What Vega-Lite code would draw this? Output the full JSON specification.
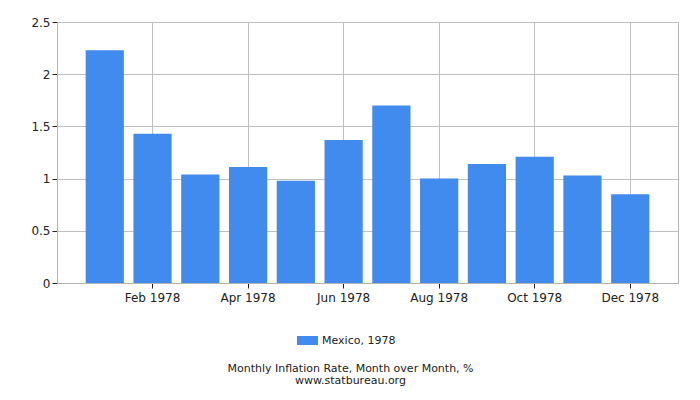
{
  "$schema": "https://vega.github.io/schema/vega-lite/v6.json",
  "width": 621,
  "height": 261,
  "autosize": "none",
  "padding": {"left": 57, "top": 22, "right": 22, "bottom": 117},
  "background": "white",
  "config": {
    "font": "DejaVu Sans",
    "view": {"stroke": "#b4b4b4"}
  },
  "title": {
    "text": ["Monthly Inflation Rate, Month over Month, %", "www.statbureau.org"],
    "orient": "bottom",
    "anchor": "middle",
    "fontSize": 11,
    "fontWeight": "normal",
    "color": "#222222",
    "lineHeight": 12,
    "offset": 17,
    "dx": -17
  },
  "data": {
    "values": [
      {"month": "Jan 1978", "value": 2.23, "series": "Mexico, 1978"},
      {"month": "Feb 1978", "value": 1.43, "series": "Mexico, 1978"},
      {"month": "Mar 1978", "value": 1.04, "series": "Mexico, 1978"},
      {"month": "Apr 1978", "value": 1.11, "series": "Mexico, 1978"},
      {"month": "May 1978", "value": 0.98, "series": "Mexico, 1978"},
      {"month": "Jun 1978", "value": 1.37, "series": "Mexico, 1978"},
      {"month": "Jul 1978", "value": 1.70, "series": "Mexico, 1978"},
      {"month": "Aug 1978", "value": 1.00, "series": "Mexico, 1978"},
      {"month": "Sep 1978", "value": 1.14, "series": "Mexico, 1978"},
      {"month": "Oct 1978", "value": 1.21, "series": "Mexico, 1978"},
      {"month": "Nov 1978", "value": 1.03, "series": "Mexico, 1978"},
      {"month": "Dec 1978", "value": 0.85, "series": "Mexico, 1978"}
    ]
  },
  "mark": {"type": "bar"},
  "encoding": {
    "x": {
      "field": "month",
      "type": "nominal",
      "sort": null,
      "scale": {"paddingInner": 0.2, "paddingOuter": 0.6},
      "axis": {
        "title": null,
        "values": ["Feb 1978", "Apr 1978", "Jun 1978", "Aug 1978", "Oct 1978", "Dec 1978"],
        "labelAngle": 0,
        "labelFontSize": 12,
        "labelColor": "#222222",
        "labelPadding": 4,
        "tickColor": "#222222",
        "tickSize": 5,
        "domainColor": "#b4b4b4",
        "grid": true,
        "gridColor": "#c0c0c0"
      }
    },
    "y": {
      "field": "value",
      "type": "quantitative",
      "scale": {"domain": [0, 2.5]},
      "axis": {
        "title": null,
        "values": [0, 0.5, 1, 1.5, 2, 2.5],
        "format": "~g",
        "labelFontSize": 12,
        "labelColor": "#222222",
        "labelPadding": 2,
        "tickColor": "#222222",
        "tickSize": 5,
        "domainColor": "#b4b4b4",
        "gridColor": "#c0c0c0"
      }
    },
    "color": {
      "field": "series",
      "type": "nominal",
      "scale": {"range": ["#418bef"]},
      "legend": {
        "title": null,
        "orient": "none",
        "legendX": 240,
        "legendY": 308,
        "symbolType": "M-1,-0.43H1V0.43H-1Z",
        "symbolSize": 441,
        "symbolStrokeWidth": 0,
        "labelFontSize": 11,
        "labelColor": "#222222"
      }
    }
  }
}
